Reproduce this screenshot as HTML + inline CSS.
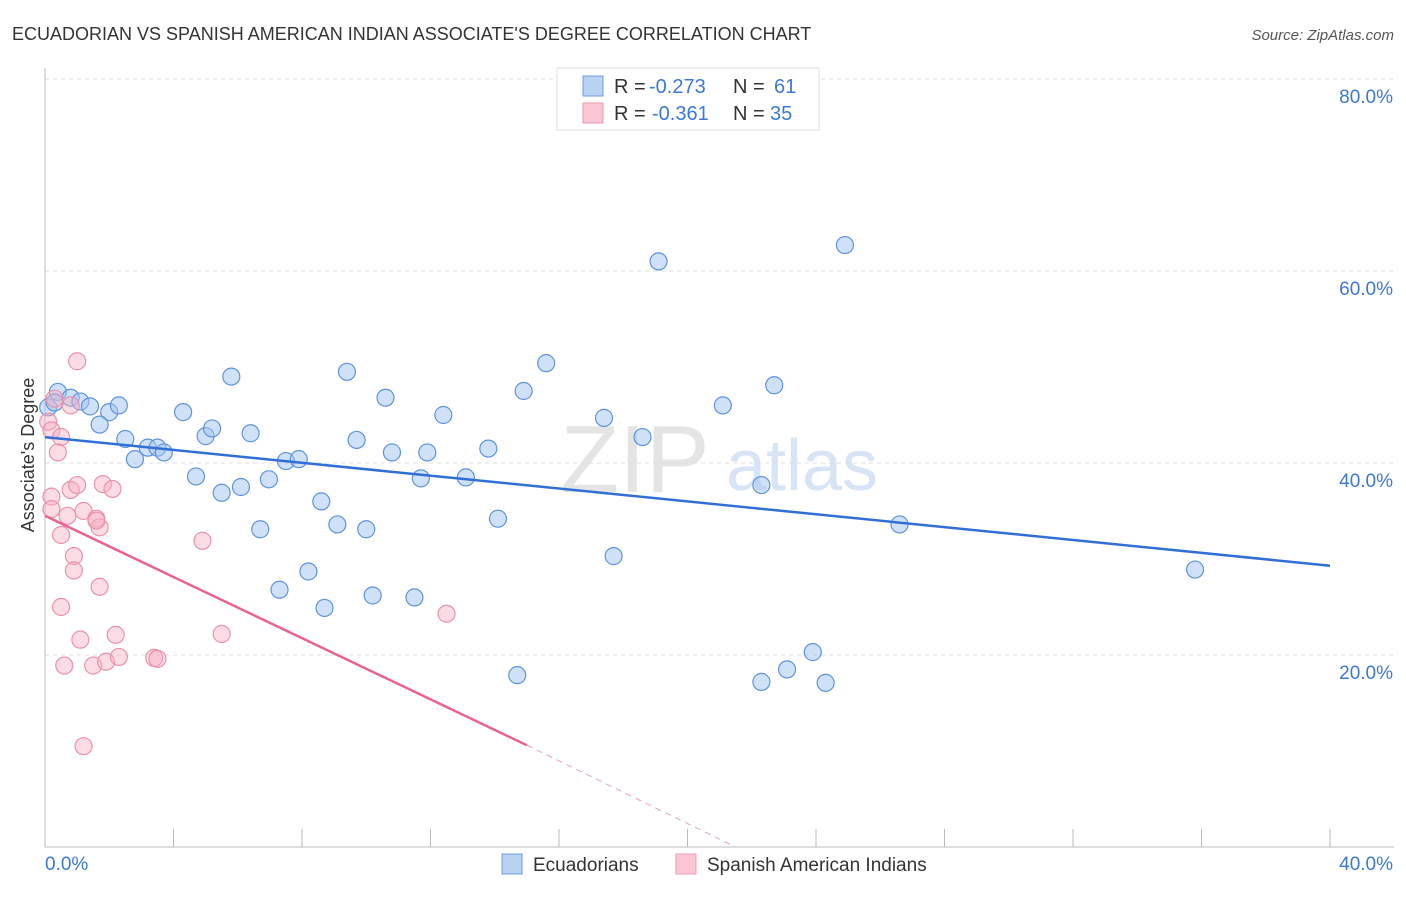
<!DOCTYPE html>
<html><head><meta charset="utf-8"><style>
body{margin:0;background:#fff;font-family:"Liberation Sans",sans-serif}
svg text{font-family:"Liberation Sans",sans-serif}
</style></head><body>
<svg id="c" width="1406" height="892">
<text x="12" y="40" font-size="18" fill="#333">ECUADORIAN VS SPANISH AMERICAN INDIAN ASSOCIATE'S DEGREE CORRELATION CHART</text>
<text x="1394" y="40" font-size="15" fill="#555" font-style="italic" text-anchor="end">Source: ZipAtlas.com</text>
<text x="635" y="492" font-size="96" fill="#e4e4e4" font-family="Liberation Serif" text-anchor="middle">ZIP</text>
<text x="802" y="490" font-size="72" fill="#d6e4f5" text-anchor="middle">atlas</text>
<g id="grid"></g><g id="pts"></g><g id="lines"></g>
<text transform="translate(34,455) rotate(-90)" font-size="18" fill="#333" text-anchor="middle">Associate's Degree</text>
<g>
<rect x="557" y="68" width="262" height="62" fill="#fff" stroke="#ddd"/>
<rect x="583" y="76" width="20" height="20" fill="#b8d2f4" stroke="#6d9be0"/>
<rect x="583" y="103" width="20" height="20" fill="#f9c6d4" stroke="#ec9ab2"/>
<text x="614" y="93" font-size="20" fill="#333">R =</text>
<text x="649" y="93" font-size="20" fill="#3b78d8">-0.273</text>
<text x="733" y="93" font-size="20" fill="#333">N =</text>
<text x="774" y="93" font-size="20" fill="#3b78d8">61</text>
<text x="614" y="120" font-size="20" fill="#333">R =</text>
<text x="652" y="120" font-size="20" fill="#3b78d8">-0.361</text>
<text x="733" y="120" font-size="20" fill="#333">N =</text>
<text x="770" y="120" font-size="20" fill="#3b78d8">35</text>
</g>
<g>
<rect x="502" y="854" width="20" height="20" fill="#b8d2f4" stroke="#6d9be0"/>
<text x="533" y="871" font-size="19" fill="#333">Ecuadorians</text>
<rect x="676" y="854" width="20" height="20" fill="#f9c6d4" stroke="#ec9ab2"/>
<text x="707" y="871" font-size="19" fill="#333">Spanish American Indians</text>
</g>
</svg>
<script>
const yTicks=[20,40,60,80];
const yTickLabels=["20.0%","40.0%","60.0%","80.0%"];
const xTickLabels=["0.0%","40.0%"];
const blueX=[0.4,0.8,1.1,1.4,2.0,2.3,1.7,2.5,2.8,3.2,3.5,3.7,4.3,4.7,5.0,5.2,5.5,5.8,6.1,6.4,6.7,6.97,7.3,7.5,7.9,8.2,8.6,8.7,9.1,9.4,9.7,10.0,10.2,10.6,10.8,11.5,11.7,11.9,12.4,13.1,13.8,14.1,14.7,14.9,15.6,17.4,17.7,18.6,19.1,21.1,22.3,22.3,22.7,23.1,23.9,24.3,24.9,26.6,35.8,0.1,0.3];
const blueY=[47.4,46.8,46.4,45.9,45.3,46.0,44.0,42.5,40.4,41.6,41.6,41.1,45.3,38.6,42.8,43.6,36.9,49.0,37.5,43.1,33.1,38.3,26.8,40.2,40.4,28.7,36.0,24.9,33.6,49.5,42.4,33.1,26.2,46.8,41.1,26.0,38.4,41.1,45.0,38.5,41.5,34.2,17.9,47.5,50.4,44.7,30.3,42.7,61.0,46.0,17.2,37.7,48.1,18.5,20.3,17.1,62.7,33.6,28.9,45.8,46.3];
const pinkX=[1.0,0.3,0.8,0.1,0.2,0.5,0.4,0.2,0.2,0.7,0.8,1.0,1.8,2.1,0.5,0.9,0.9,1.2,1.6,1.7,1.6,1.7,0.5,1.1,2.2,4.9,5.5,12.5,0.6,1.5,1.9,2.3,3.4,3.5,1.2];
const pinkY=[50.6,46.7,46.0,44.3,43.4,42.7,41.1,36.5,35.2,34.5,37.2,37.7,37.8,37.3,32.5,30.3,28.8,35.0,34.2,33.3,34.0,27.1,25.0,21.6,22.1,31.9,22.2,24.3,18.9,18.9,19.3,19.8,19.7,19.6,10.5];
const blueLine=[[0,42.7],[40,29.3]];
const pinkLine=[[0,34.5],[15.0,10.6]];
const pinkDash=[[15.0,10.6],[21.5,0]];
const X0=45,X1=1330,Y0=847,Y80=79;
const sx=v=>X0+v/40*(X1-X0), sy=v=>Y0-v/80*(Y0-Y80);
const NS="http://www.w3.org/2000/svg";
function mk(t,a,p){const e=document.createElementNS(NS,t);for(const k in a)e.setAttribute(k,a[k]);p.appendChild(e);return e;}
const g=document.getElementById('grid');
yTicks.forEach((t,i)=>{
 const l=mk('line',{x1:X0,x2:1394,y1:sy(t),y2:sy(t),stroke:'#ddd','stroke-dasharray':'4,4'},g);
 
 
 const tx=mk('text',{x:1393,y:sy(t)+24,'font-size':19,fill:'#3b78d8','text-anchor':'end'},g);
 tx.textContent=yTickLabels[i];
 
 
});
const ax=mk('line',{x1:X0,x2:X0,y1:68,y2:847,stroke:'#bbb'},g);


const bx=mk('line',{x1:X0,x2:1394,y1:847,y2:847,stroke:'#bbb'},g);


for(let i=0;i<=10;i++){const t=mk('line',{x1:sx(i*4),x2:sx(i*4),y1:829,y2:847,stroke:'#bbb'},g);
 
 }
[[0,'start',45],[40,'end',1393]].forEach((d,i)=>{const t=mk('text',{x:d[2],y:870,'font-size':19,fill:'#3b78d8','text-anchor':d[1]},g);t.textContent=xTickLabels[i];
 
 });
const p=document.getElementById('pts');
blueX.forEach((x,i)=>{const c=mk('circle',{cx:sx(x),cy:sy(blueY[i]),r:8.5,fill:'rgba(160,196,240,0.5)',stroke:'#5f93dc','stroke-width':1.2},p);
 
 });
pinkX.forEach((x,i)=>{const c=mk('circle',{cx:sx(x),cy:sy(pinkY[i]),r:8.5,fill:'rgba(246,176,196,0.45)',stroke:'#ea92ac','stroke-width':1.2},p);
 
 });
const L=document.getElementById('lines');
const b=mk('line',{x1:sx(blueLine[0][0]),y1:sy(blueLine[0][1]),x2:sx(blueLine[1][0]),y2:sy(blueLine[1][1]),stroke:'#2f6fd6','stroke-width':2.5},L);


const pk=mk('line',{x1:sx(pinkLine[0][0]),y1:sy(pinkLine[0][1]),x2:sx(pinkLine[1][0]),y2:sy(pinkLine[1][1]),stroke:'#e8648e','stroke-width':2.5},L);


const pd=mk('line',{x1:sx(pinkDash[0][0]),y1:sy(pinkDash[0][1]),x2:sx(pinkDash[1][0]),y2:sy(pinkDash[1][1]),stroke:'#e8a0b8','stroke-width':1,'stroke-dasharray':'6,5'},L);


</script>
</body></html>
